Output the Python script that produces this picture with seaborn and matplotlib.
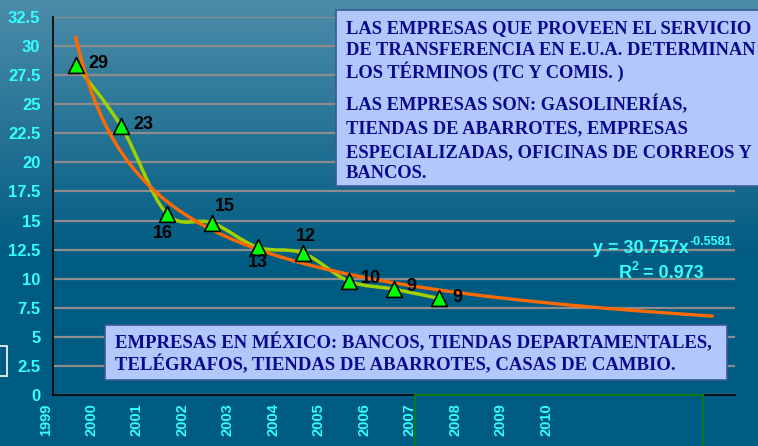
import numpy as np
import matplotlib
matplotlib.use("Agg")
import matplotlib.pyplot as plt
import seaborn as sns
from matplotlib.patches import Rectangle, PathPatch
from matplotlib.path import Path

# category axis labels (ticks between categories)
years = ['1999', '2000', '2001', '2002', '2003', '2004', '2005', '2006',
         '2007', '2008', '2009', '2010', '', '', '', '']
# cost values, one per category
values = [28.4, 23.1, 15.6, 14.8, 12.7, 12.2, 9.8, 9.1, 8.3]
value_labels = ['29', '23', '16', '15', '13', '12', '10', '9', '9']
# power trendline shown in the chart
fit_a = 30.757
fit_b = -0.5581
fit_r2 = 0.973
fit_n = 15
y_ticks = [0, 2.5, 5, 7.5, 10, 12.5, 15, 17.5, 20, 22.5, 25, 27.5, 30, 32.5]
y_ticklabels = ['0', '2.5', '5', '7.5', '10', '12.5', '15', '17.5', '20',
                '22.5', '25', '27.5', '30', '32.5']

box1_lines = ['LAS EMPRESAS QUE PROVEEN EL SERVICIO',
              'DE TRANSFERENCIA EN E.U.A. DETERMINAN',
              'LOS TÉRMINOS (TC Y COMIS. )',
              'LAS EMPRESAS SON: GASOLINERÍAS,',
              'TIENDAS DE ABARROTES, EMPRESAS',
              'ESPECIALIZADAS, OFICINAS DE CORREOS Y',
              'BANCOS.']
box2_lines = ['EMPRESAS EN MÉXICO: BANCOS, TIENDAS DEPARTAMENTALES,',
              'TELÉGRAFOS, TIENDAS DE ABARROTES, CASAS DE CAMBIO.']

# label offsets (points) and alignment per data label
label_off = [(9, 1), (9, 1), (-3, -14), (9, 12), (0, -11), (2, 12), (9, 2), (9, 2), (9, 1)]
label_ha = ['left', 'left', 'center', 'center', 'center', 'center', 'left', 'left', 'left']

sns.set_theme(style='white')
plt.rcParams['font.family'] = ['Liberation Sans', 'DejaVu Sans']

W, H = 758, 446
fig = plt.figure(figsize=(W / 100, H / 100), dpi=100)


def fx(px):
    return px / W


def fy(py):
    return 1 - py / H


# background gradient
bg = fig.add_axes([0, 0, 1, 1], zorder=-1)
top = np.array([0x4c, 0x8c, 0xa9]) / 255
bot = np.array([0x00, 0x5b, 0x82]) / 255
frac = np.clip(np.arange(H) / 260.0, 0, 1)[:, None]
grad = top * (1 - frac) + bot * frac
grad = np.repeat(grad[:, None, :], 4, axis=1)
bg.imshow(grad, aspect='auto', extent=[0, 1, 0, 1])
bg.axis('off')

ax = fig.add_axes([fx(53), fy(395), fx(735 - 53), (395 - 17) / H])
ax.set_facecolor('none')

xpos = np.arange(len(values)) + 0.5

# power trendline (x = 1..15 in chart units)
xt = np.linspace(1, fit_n, 200)
yt = fit_a * xt ** fit_b
sns.lineplot(x=xt - 0.5, y=yt, color='#ff6a00', lw=2.4, ax=ax, zorder=4)

# smoothed line through the points (bezier like the original)
pts = np.column_stack([xpos, values])
ext = np.vstack([pts[0], pts, pts[-1]])
verts = [tuple(pts[0])]
codes = [Path.MOVETO]
for i in range(len(pts) - 1):
    p0, p1, p2, p3 = ext[i], ext[i + 1], ext[i + 2], ext[i + 3]
    c1 = p1 + (p2 - p0) / 6
    c2 = p2 - (p3 - p1) / 6
    verts += [tuple(c1), tuple(c2), tuple(p2)]
    codes += [Path.CURVE4] * 3
ax.add_patch(PathPatch(Path(verts, codes), fill=False, edgecolor='#9fd000',
                       lw=2.5, zorder=3))

sns.scatterplot(x=xpos, y=values, marker='^', s=130, color='#00ff00',
                edgecolor='black', linewidth=1.2, zorder=5, ax=ax)

for x, v, lab, off, ha in zip(xpos, values, value_labels, label_off, label_ha):
    ax.annotate(lab, (x, v), xytext=off, textcoords='offset points',
                ha=ha, va='center', fontsize=13, fontweight='bold',
                color='black', zorder=6)

ax.set_xlim(0, len(years) - 1)
ax.set_ylim(0, 32.5)
ax.set_xticks(range(len(years)))
ax.set_xticklabels(years, rotation=90, ha='right', va='top')
ax.set_yticks(y_ticks)
ax.set_yticklabels(y_ticklabels)
for lab in ax.get_xticklabels():
    lab.set_fontsize(10.5)
for lab in ax.get_yticklabels():
    lab.set_fontsize(12)
ax.tick_params(colors='black', labelcolor='#33ffff', direction='out',
               length=4, width=1)
ax.tick_params(axis='y', pad=5)
ax.tick_params(axis='x', pad=2)
for lab in ax.get_xticklabels() + ax.get_yticklabels():
    lab.set_fontweight('bold')
ax.set_xlabel('')
ax.set_ylabel('')
ax.grid(axis='y', color='#8c8c8c', lw=1.6)
ax.grid(axis='x', visible=False)
ax.set_axisbelow(True)
for s in ['top', 'right']:
    ax.spines[s].set_visible(False)
for s in ['left', 'bottom']:
    ax.spines[s].set_color('black')
    ax.spines[s].set_linewidth(1.2)

# equation of the trendline
fig.text(fx(593), fy(253), 'y = %.3fx' % fit_a, color='#33ffff',
         fontsize=13, fontweight='bold', va='baseline', ha='left')
fig.text(fx(689), fy(245), '%.4f' % fit_b, color='#33ffff',
         fontsize=9, fontweight='bold', va='baseline', ha='left')
fig.text(fx(619), fy(278), 'R', color='#33ffff', fontsize=13,
         fontweight='bold', va='baseline', ha='left')
fig.text(fx(632), fy(270), '2', color='#33ffff', fontsize=9,
         fontweight='bold', va='baseline', ha='left')
fig.text(fx(638), fy(278), ' = %.3f' % fit_r2, color='#33ffff', fontsize=13,
         fontweight='bold', va='baseline', ha='left')

serif = ['Liberation Serif', 'DejaVu Serif']
box_fc = '#b2c8fd'
box_ec = '#3c5a9a'
txt_c = '#0a0a8c'

# upper text box (runs off the right edge)
fig.add_artist(Rectangle((fx(336), fy(186)), fx(440), (186 - 10) / H,
                         transform=fig.transFigure, facecolor=box_fc,
                         edgecolor=box_ec, lw=1.2, clip_on=False))
for line, base in zip(box1_lines, [33, 55, 78, 110, 133, 157, 178]):
    fig.text(fx(346), fy(base), line, family=serif, fontsize=13.3,
             fontweight='bold', color=txt_c, va='baseline', ha='left')

# lower text box
fig.add_artist(Rectangle((fx(105), fy(380)), fx(727 - 105), (380 - 325) / H,
                         transform=fig.transFigure, facecolor=box_fc,
                         edgecolor=box_ec, lw=1.2))
for line, base in zip(box2_lines, [348, 370]):
    fig.text(fx(115), fy(base), line, family=serif, fontsize=13.5,
             fontweight='bold', color=txt_c, va='baseline', ha='left')

# leftover frames seen in the picture
fig.add_artist(Rectangle((fx(-10), fy(376)), fx(17), 30 / H,
                         transform=fig.transFigure, facecolor='none',
                         edgecolor='white', lw=1.2))
fig.add_artist(Rectangle((fx(415), fy(460)), fx(703 - 415), 65 / H,
                         transform=fig.transFigure, facecolor='none',
                         edgecolor='#0b7a12', lw=1.4))

fig.savefig('out.png', dpi=100)
